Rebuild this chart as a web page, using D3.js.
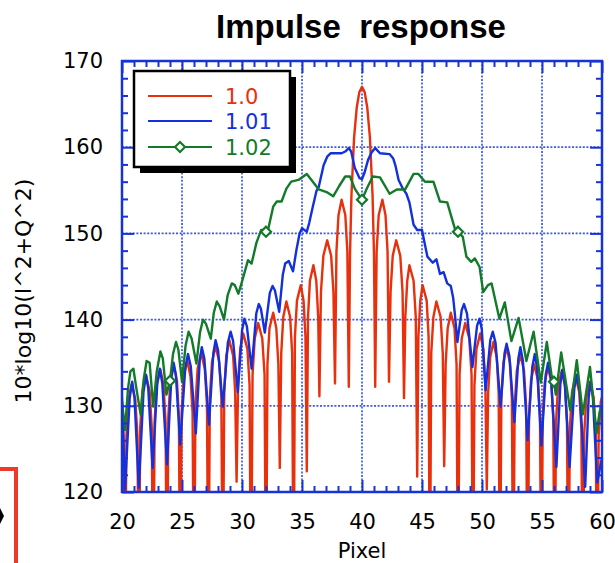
<!DOCTYPE html>
<html><head><meta charset="utf-8">
<script src="https://cdn.jsdelivr.net/npm/d3@7"></script>
<style>
body{margin:0;background:#fff;}
svg{display:block;}
text{font-family:"DejaVu Sans",sans-serif;}
</style></head><body>
<svg id="chart" width="615" height="563"></svg>
<script>
// ---------------- data ----------------
const seriesNames = ["1.0", "1.01", "1.02"];
const xMajorTicks = [20, 25, 30, 35, 40, 45, 50, 55, 60];
const yMajorTicks = [120, 130, 140, 150, 160, 170];
const xMinorTicks = d3.range(20, 61, 1);
const yMinorTicks = d3.range(120, 171, 2);

const red = [
[20.0,129.8],[20.13,126.5],[20.25,105],
[20.37,126.5],[20.54,130.7],[20.8,132.5],[21.11,130.7],[21.29,126.5],[21.4,105],
[21.52,127.5],[21.7,131.7],[22.0,133.5],[22.3,131.7],[22.48,127.5],[22.6,105],
[22.72,128.2],[22.89,132.4],[23.2,134.2],[23.46,132.4],[23.63,128.2],[23.75,105],
[23.86,128.7],[24.03,132.9],[24.3,134.7],[24.58,132.9],[24.74,128.7],[24.85,105],
[24.97,129.2],[25.14,133.4],[25.45,135.2],[25.71,133.4],[25.88,129.2],[26.0,105],
[26.12,130.1],[26.3,134.3],[26.6,136.1],[26.9,134.3],[27.08,130.1],[27.2,105],
[27.32,130.9],[27.5,135.1],[27.8,136.9],[28.1,135.1],[28.28,130.9],[28.4,105],
[28.52,131.6],[28.69,135.8],[28.95,137.6],[29.26,135.8],[29.43,131.6],[29.55,121.2],
[29.67,132.4],[29.85,136.6],[30.1,138.4],[30.45,136.6],[30.63,132.4],[30.75,105],
[30.88,133.6],[31.06,137.8],[31.35,139.6],[31.69,137.8],[31.88,133.6],[32.0,105],
[32.12,134.8],[32.29,139.0],[32.6,140.8],[32.86,139.0],[33.03,134.8],[33.15,122.8],
[33.27,136.1],[33.44,140.3],[33.7,142.1],[34.01,140.3],[34.18,136.1],[34.3,105],
[34.41,138.0],[34.58,142.2],[34.9,144.0],[35.13,142.2],[35.29,138.0],[35.4,122.4],
[35.5,140.3],[35.66,144.5],[35.95,146.3],[36.19,144.5],[36.35,140.3],[36.45,131.1],
[36.58,143.2],[36.78,147.4],[37.1,149.2],[37.43,147.4],[37.62,143.2],[37.75,132.6],
[37.87,147.9],[38.04,152.1],[38.3,153.9],[38.61,152.1],[38.78,147.9],[38.9,132.2],
[39.0,147.5],[39.12,154.4],[39.34,161.1],[39.56,164.6],[39.78,166.4],[40.0,167.0],
[40.22,166.4],[40.44,164.6],[40.66,161.1],[40.88,154.4],[41.0,147.5],[41.1,132.2],
[41.22,147.9],[41.39,152.1],[41.7,153.9],[41.96,152.1],[42.13,147.9],[42.25,132.8],
[42.38,143.2],[42.56,147.4],[42.85,149.2],[43.19,147.4],[43.38,143.2],[43.5,130.9],
[43.61,140.3],[43.77,144.5],[43.95,146.3],[44.3,144.5],[44.48,140.3],[44.6,121.8],
[44.7,138.0],[44.86,142.2],[45.05,144.0],[45.39,142.2],[45.55,138.0],[45.65,105],
[45.77,136.1],[45.95,140.3],[46.2,142.1],[46.55,140.3],[46.73,136.1],[46.85,123.0],
[46.97,134.8],[47.14,139.0],[47.4,140.8],[47.71,139.0],[47.88,134.8],[48.0,105],
[48.13,133.6],[48.31,137.8],[48.6,139.6],[48.94,137.8],[49.13,133.6],[49.25,105],
[49.37,132.4],[49.54,136.6],[49.85,138.4],[50.11,136.6],[50.28,132.4],[50.4,120.3],
[50.51,131.4],[50.68,135.6],[50.95,137.4],[51.23,135.6],[51.39,131.4],[51.5,105],
[51.61,130.8],[51.78,135.0],[52.05,136.8],[52.33,135.0],[52.49,130.8],[52.6,105],
[52.72,129.9],[52.9,134.1],[53.2,135.9],[53.5,134.1],[53.68,129.9],[53.8,105],
[53.92,128.8],[54.09,133.0],[54.35,134.8],[54.66,133.0],[54.83,128.8],[54.95,105],
[55.06,128.5],[55.23,132.7],[55.5,134.5],[55.78,132.7],[55.94,128.5],[56.05,105],
[56.17,128.1],[56.34,132.3],[56.65,134.1],[56.91,132.3],[57.08,128.1],[57.2,105],
[57.32,127.4],[57.5,131.6],[57.8,133.4],[58.1,131.6],[58.28,127.4],[58.4,105],
[58.52,126.8],[58.7,131.0],[59.0,132.8],[59.3,131.0],[59.48,126.8],[59.6,105],
[59.72,126.5],[59.9,130.5],[60.0,131.0]
];

const blue = [
[20.0,131.0],[20.25,120.3],[20.64,130.9],[20.85,132.8],[21.04,131.0],[21.4,120.5],
[21.79,131.6],[22.0,133.6],[22.19,132.0],[22.55,122.8],
[22.94,132.6],[23.15,134.3],[23.36,132.6],[23.75,123.2],
[24.11,133.2],[24.3,135.0],[24.49,133.6],[24.85,125.5],
[25.27,134.4],[25.5,136.0],[25.73,134.6],[26.15,126.8],
[26.48,135.3],[26.65,136.8],[26.86,135.5],[27.25,127.8],
[27.61,136.1],[27.8,137.6],[28.01,136.4],[28.4,129.9],
[28.82,137.3],[29.05,138.6],[29.26,137.5],[29.65,131.6],
[30.01,138.8],[30.2,140.1],[30.41,139.2],[30.8,134.3],
[31.19,140.7],[31.4,141.8],[31.57,141.3],[31.9,138.5],
[32.32,143.1],[32.55,143.9],[32.74,143.4],[33.1,140.9],
[33.4,145.2],[33.6,146.5],[33.9,146.8],[34.25,145.6],[34.55,148.2],[34.8,150.0],
[35.0,150.6],[35.4,150.2],[35.6,151.2],[35.9,153.1],[36.2,154.9],[36.4,155.4],
[36.8,157.9],[37.1,158.9],[37.4,159.3],[38.3,159.3],[38.6,159.5],[38.9,159.9],
[39.1,159.5],[39.4,157.6],[39.8,156.4],[40.0,156.3],[40.2,157.0],[40.5,158.5],
[40.8,159.4],[41.1,159.9],[41.5,159.3],[42.3,159.2],[42.6,158.7],[42.8,157.8],
[43.05,156.2],[43.4,155.2],[43.7,154.6],[43.95,153.6],[44.3,151.0],[44.6,150.4],
[45.0,150.4],[45.2,149.0],[45.45,147.3],[45.9,146.6],[46.2,147.0],[46.5,145.3],
[46.8,145.5],[47.1,144.2],[47.4,143.9],[47.6,142.5],[47.75,140.5],[47.95,137.4],
[48.31,141.1],[48.5,141.8],[48.75,140.7],[49.2,134.5],
[49.59,139.3],[49.8,140.1],[49.98,138.9],[50.3,131.8],
[50.69,137.6],[50.9,138.6],[51.13,137.3],[51.55,129.9],
[51.88,136.1],[52.05,137.2],[52.28,135.8],[52.7,128.1],
[53.03,135.5],[53.2,136.8],[53.41,135.2],[53.8,126.0],
[54.19,134.5],[54.4,136.0],[54.59,134.4],[54.95,125.4],
[55.31,133.6],[55.5,135.0],[55.75,133.2],[56.2,122.9],
[56.53,132.5],[56.7,134.2],[56.91,132.5],[57.3,122.9],
[57.69,132.0],[57.9,133.6],[58.15,131.7],[58.6,120.6],
[58.89,131.0],[59.05,132.8],[59.24,131.0],[59.6,121.1],
[60.0,124.0]
];

const green = [
[20.0,130.5],[20.25,127.2],[20.5,132.0],[20.7,134.0],[20.95,134.3],[21.2,132.0],
[21.55,129.0],[21.8,133.0],[22.05,135.2],[22.3,135.0],[22.6,129.9],[22.9,134.0],
[23.2,136.3],[23.4,135.5],[23.7,131.3],[24.0,132.9],[24.25,136.0],[24.5,137.4],
[24.7,136.5],[25.0,132.8],[25.3,137.0],[25.55,138.6],[25.8,137.8],[26.2,134.9],
[26.5,138.5],[26.75,140.0],[27.0,139.5],[27.4,137.8],[27.65,140.8],[27.9,142.1],
[28.15,141.5],[28.5,140.0],[28.8,142.8],[29.15,144.2],[29.4,144.0],[29.7,143.0],
[30.0,144.4],[30.5,146.9],[30.8,146.5],[31.2,148.9],[31.6,150.4],[32.0,150.2],
[32.2,150.6],[32.6,153.1],[32.9,153.7],[33.3,153.7],[33.7,155.2],[34.1,156.0],
[34.7,156.2],[35.4,156.9],[35.9,156.0],[36.4,155.1],[37.05,154.8],[37.6,154.3],
[38.1,155.5],[38.6,156.6],[39.0,156.6],[39.4,155.2],[40.0,153.9],[40.4,155.2],
[40.9,156.6],[41.5,156.5],[42.3,154.6],[42.9,155.1],[43.6,155.1],[44.3,156.9],
[44.7,156.9],[45.25,156.0],[45.95,156.0],[46.5,153.7],[47.1,153.6],[47.75,150.5],
[48.0,150.2],[48.4,149.6],[48.7,147.3],[49.1,146.7],[49.4,147.1],[49.8,146.1],
[50.1,143.2],[50.5,144.0],[50.8,144.2],[51.45,140.1],[51.9,142.0],[52.45,137.5],
[53.05,140.2],[53.7,135.2],[54.3,138.6],[54.9,132.7],[55.4,137.4],[55.8,133.5],
[56.0,132.8],[56.15,131.3],[56.6,136.2],[57.35,129.5],[57.9,135.3],[58.4,129.0],
[59.0,134.5],[59.55,126.8],[59.8,129.3],[60.0,130.0]
];
const greenMarkerX = [24, 32, 40, 48, 56];
const greenMarkerY = [132.9, 150.2, 153.9, 150.2, 132.8];

// ---------------- drawing ----------------
const C_RED = "#e8300c", C_BLUE = "#1430dc", C_GREEN = "#137a2a", C_AX = "#1633d8";
const svg = d3.select("#chart");
const x = d3.scaleLinear().domain([20, 60]).range([122, 602]);
const y = d3.scaleLinear().domain([120, 170]).range([492, 61]);
const X0 = x.range()[0], X1 = x.range()[1], Y0 = y.range()[0], Y1 = y.range()[1];

// title
svg.append("text").attr("x", 361).attr("y", 38).attr("text-anchor", "middle")
  .style("font-family", "'Liberation Sans', Arial, sans-serif").style("font-weight", "bold")
  .style("font-size", "33px").style("white-space", "pre").text("Impulse  response");

// grid
const gridX = xMajorTicks.filter(v => v > 20 && v < 60);
const gridY = yMajorTicks.filter(v => v > 120 && v < 170);
const grid = svg.append("g").attr("stroke", "#3a58ee").attr("stroke-width", 1.7)
  .attr("stroke-dasharray", "2,1.6");
grid.selectAll(".gx").data(gridX).join("line")
  .attr("x1", d => x(d)).attr("x2", d => x(d)).attr("y1", Y1).attr("y2", Y0);
grid.selectAll(".gy").data(gridY).join("line")
  .attr("y1", d => y(d)).attr("y2", d => y(d)).attr("x1", X0).attr("x2", X1);

// clip
svg.append("clipPath").attr("id", "clip").append("rect")
  .attr("x", X0).attr("y", Y1).attr("width", X1 - X0).attr("height", Y0 - Y1);

const line = d3.line().x(d => x(d[0])).y(d => y(d[1]));
const plot = svg.append("g").attr("clip-path", "url(#clip)");
[[red, C_RED], [blue, C_BLUE], [green, C_GREEN]].forEach(([data, c]) => {
  plot.append("path").datum(data).attr("d", line).attr("fill", "none")
    .attr("stroke", c).attr("stroke-width", 2.4).attr("stroke-linejoin", "round");
});
const diamond = d3.symbol().type(d3.symbolDiamond2).size(64);
plot.selectAll(".mk").data(greenMarkerX.map((v, i) => [v, greenMarkerY[i]])).join("path")
  .attr("d", diamond).attr("transform", d => `translate(${x(d[0])},${y(d[1])})`)
  .attr("fill", "#fff").attr("stroke", C_GREEN).attr("stroke-width", 2.2);

// axes (ticks inward)
function styleAxis(g) {
  g.select(".domain").remove();
  g.selectAll(".tick line").attr("stroke", C_AX).attr("stroke-width", 2);
  g.selectAll("text").attr("fill", "#000").style("font-size", "21px")
    .style("font-family", "'DejaVu Sans', sans-serif");
}
const xMinorOnly = xMinorTicks.filter(v => !xMajorTicks.includes(v));
const yMinorOnly = yMinorTicks.filter(v => !yMajorTicks.includes(v));
svg.append("g").attr("transform", `translate(0,${Y0})`)
  .call(d3.axisBottom(x).tickValues(xMinorOnly).tickSize(-6).tickFormat("")).call(styleAxis);
svg.append("g").attr("transform", `translate(0,${Y0})`)
  .call(d3.axisBottom(x).tickValues(xMajorTicks).tickSize(-12).tickPadding(22).tickFormat(d3.format("d")))
  .call(styleAxis);
svg.append("g").attr("transform", `translate(0,${Y1})`)
  .call(d3.axisTop(x).tickValues(xMinorOnly).tickSize(-6).tickFormat("")).call(styleAxis);
svg.append("g").attr("transform", `translate(0,${Y1})`)
  .call(d3.axisTop(x).tickValues(xMajorTicks).tickSize(-12).tickFormat("")).call(styleAxis);
svg.append("g").attr("transform", `translate(${X0},0)`)
  .call(d3.axisLeft(y).tickValues(yMinorOnly).tickSize(-6).tickFormat("")).call(styleAxis);
svg.append("g").attr("transform", `translate(${X0},0)`)
  .call(d3.axisLeft(y).tickValues(yMajorTicks).tickSize(-12).tickPadding(19).tickFormat(d3.format("d")))
  .call(styleAxis);
svg.append("g").attr("transform", `translate(${X1},0)`)
  .call(d3.axisRight(y).tickValues(yMinorOnly).tickSize(-6).tickFormat("")).call(styleAxis);
svg.append("g").attr("transform", `translate(${X1},0)`)
  .call(d3.axisRight(y).tickValues(yMajorTicks).tickSize(-12).tickFormat("")).call(styleAxis);

// frame
svg.append("rect").attr("x", X0).attr("y", Y1).attr("width", X1 - X0).attr("height", Y0 - Y1)
  .attr("fill", "none").attr("stroke", C_AX).attr("stroke-width", 2.5);

// axis titles
svg.append("text").attr("x", (X0 + X1) / 2).attr("y", 558).attr("text-anchor", "middle")
  .style("font-size", "21px").text("Pixel");
svg.append("text").attr("transform", "translate(31,291) rotate(-90)").attr("text-anchor", "middle")
  .style("font-size", "22px").text("10*log10(I^2+Q^2)");

// legend
const lg = svg.append("g");
lg.append("rect").attr("x", 140).attr("y", 77).attr("width", 156).attr("height", 96).attr("fill", "#000");
lg.append("rect").attr("x", 134).attr("y", 71).attr("width", 156).attr("height", 96)
  .attr("fill", "#fff").attr("stroke", "#000").attr("stroke-width", 2.5);
const lgColors = [C_RED, C_BLUE, C_GREEN];
const lgY = [96, 121, 147];
seriesNames.forEach((n, i) => {
  lg.append("line").attr("x1", 148).attr("x2", 212).attr("y1", lgY[i]).attr("y2", lgY[i])
    .attr("stroke", lgColors[i]).attr("stroke-width", 2);
  lg.append("text").attr("x", 225).attr("y", lgY[i] + 8).attr("fill", lgColors[i])
    .style("font-size", "21px").text(n);
});
lg.append("path").attr("d", diamond).attr("transform", `translate(180,${lgY[2]})`)
  .attr("fill", "#fff").attr("stroke", C_GREEN).attr("stroke-width", 2.2);

// fragment of neighbouring panel at bottom-left
svg.append("rect").attr("x", -30).attr("y", 469).attr("width", 46).attr("height", 120)
  .attr("fill", "none").attr("stroke", "#ee3a2a").attr("stroke-width", 4);
svg.append("path").attr("d", "M0,508 L4,516 L0,524 Z").attr("fill", "#000");
</script>
</body></html>
